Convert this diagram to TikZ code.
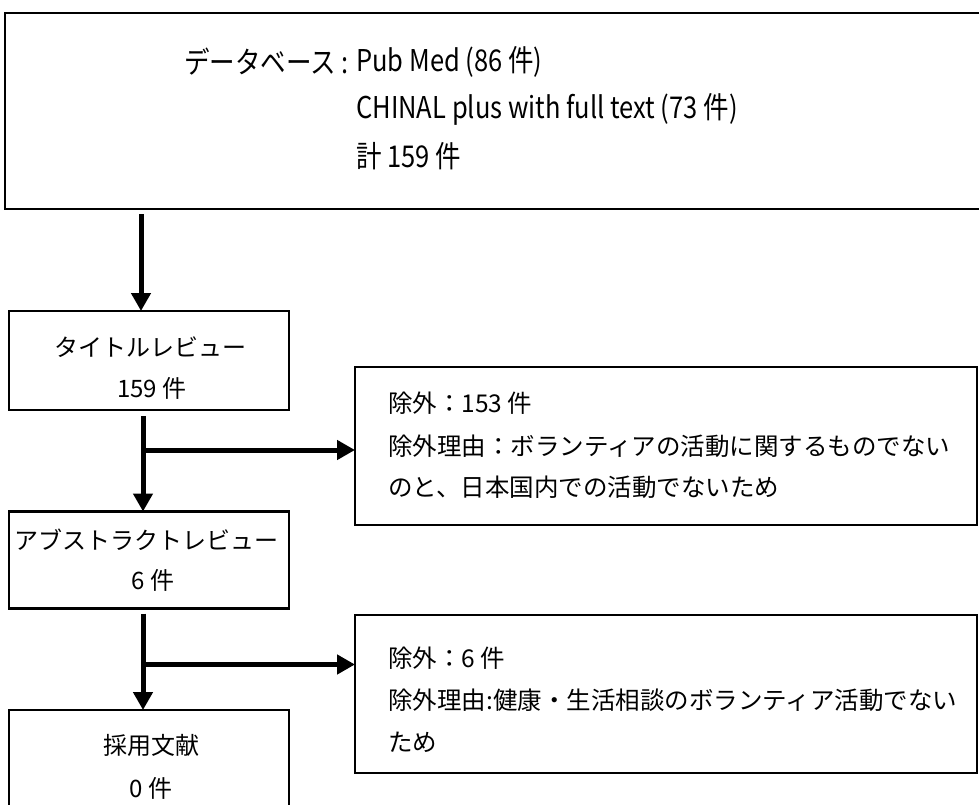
\documentclass[tikz,border=0pt]{standalone}
\usepackage{fontspec}
\setmainfont{Noto Sans CJK JP}
\usetikzlibrary{arrows.meta}
\begin{document}
\begin{tikzpicture}[x=1pt,y=-1pt,
  box/.style={draw, line width=2.2pt, inner sep=0pt, outer sep=0pt},
  arr/.style={line width=5pt, -{Triangle[width=19pt,length=18pt]}},
  lbl/.style={font=\fontsize{24.5}{24.5}\selectfont, inner sep=0pt, anchor=west},
  clbl/.style={font=\fontsize{24}{24}\selectfont, inner sep=0pt},
  ttl/.style={font=\fontsize{30}{30}\selectfont, inner sep=0pt, anchor=west}
]
\useasboundingbox (0,0) rectangle (979,805);
\fill[white] (0,0) rectangle (979,805);

% top box
\node[box, minimum width=980pt, minimum height=196pt] (top) at (495,111) {};
\node[ttl, anchor=east] (dbl) at (349,62) {\scalebox{0.85}[1]{データベース :}};
\node[ttl] (db) at (356,62) {\scalebox{0.85}[1]{Pub Med (86 件)}};
\node[ttl] (ch) at (356,109) {\scalebox{0.85}[1]{CHINAL plus with full text (73 件)}};
\node[ttl] (tot) at (356,156) {\scalebox{0.85}[1]{計 159 件}};

% left boxes
\node[box, minimum width=280pt, minimum height=99pt] (b2) at (149,360.5) {};
\node[clbl] (b2a) at (150,347) {タイトルレビュー};
\node[clbl] (b2b) at (152,388) {159 件};

\node[box, minimum width=280pt, minimum height=97pt] (b3) at (149,560) {};
\node[clbl] (b3a) at (146,540) {アブストラクトレビュー};
\node[clbl] (b3b) at (153,580) {6 件};

\node[box, minimum width=280pt, minimum height=100pt] (b4) at (149,760) {};
\node[clbl] (b4a) at (151,745) {採用文献};
\node[clbl] (b4b) at (151,788) {0 件};

% exclusion boxes
\node[box, minimum width=622pt, minimum height=158pt] (ex1) at (666,446) {};
\node[lbl] (ex1a) at (388,403) {除外：153 件};
\node[lbl] (ex1b) at (388,446) {除外理由：ボランティアの活動に関するものでない};
\node[lbl] (ex1c) at (388,487) {のと、日本国内での活動でないため};

\node[box, minimum width=622pt, minimum height=158pt] (ex2) at (666,694) {};
\node[lbl] (ex2a) at (388,658) {除外：6 件};
\node[lbl] (ex2b) at (388,700) {除外理由:健康・生活相談のボランティア活動でない};
\node[lbl] (ex2c) at (388,742) {ため};

% arrows
\coordinate (a1e) at ([xshift=-8pt]b2.north);
\path (a1e |- top.south) ++(0,5) coordinate (a1s);
\draw[arr] (a1s) -- (a1e);

\draw[arr] ([xshift=-6pt,yshift=-6pt]b2.south) -- ([xshift=-6pt]b3.north);
\path ([xshift=-6pt]b2.south) ++(0,40) coordinate (j1);
\draw[arr] (j1) -- (j1 -| ex1.west);

\draw[arr] ([xshift=-6pt,yshift=-5pt]b3.south) -- ([xshift=-6pt]b4.north);
\path ([xshift=-6pt]b3.south) ++(0,56) coordinate (j2);
\draw[arr] (j2) -- (j2 -| ex2.west);
\end{tikzpicture}
\end{document}
